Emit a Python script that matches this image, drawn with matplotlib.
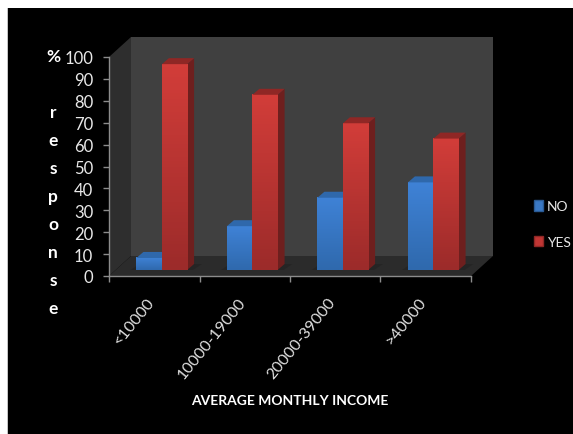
import matplotlib
matplotlib.use('Agg')
import matplotlib.pyplot as plt
import numpy as np
from matplotlib.colors import LinearSegmentedColormap
from matplotlib.patches import Polygon, Rectangle
from matplotlib.transforms import Affine2D

# Data for the chart
categories = ['<10000', '10000-19000', '20000-39000', '>40000']
no_values = [5.5, 20, 33, 40]
yes_values = [94, 80, 67, 60]
y_ticks = list(range(0, 101, 10))

plt.rcParams['font.family'] = ['Lato', 'DejaVu Sans']

W, H = 573, 435
fig = plt.figure(figsize=(W / 100, H / 100), dpi=100, facecolor='white')

# black slide behind the chart, thin grey edge on the left
fig.add_artist(Rectangle((7 / W, 0), 566 / W, 1 - 9 / H, transform=fig.transFigure,
                         facecolor='#c4c4c4', edgecolor='none', zorder=-3))
fig.add_artist(Rectangle((8 / W, 0), 565 / W, 1 - 9 / H, transform=fig.transFigure,
                         facecolor='black', edgecolor='none', zorder=-2))

# front edge of the chart box
ax = fig.add_axes([109 / W, 1 - 277 / H, 362 / W, 219 / H], zorder=2)
ax.set_xlim(0, 4)
ax.set_ylim(0, 100)
ax.patch.set_visible(False)


def depth(dx, dy):
    # data coords pushed back into the fake 3d box (pixels)
    return ax.transData + Affine2D().translate(dx, dy)


back = depth(22, 20)
ax.add_patch(Rectangle((0, 0), 4, 100, transform=back, facecolor='#404040', edgecolor='none',
                       zorder=1, clip_on=False))

# left wall and floor use both the front and the back corners
front_pts = ax.transData.transform([(0, 0), (0, 100), (4, 0)])
back_pts = front_pts + np.array([22, 20])
ax.add_patch(Polygon([front_pts[0], front_pts[1], back_pts[1], back_pts[0]], transform=None,
                     facecolor='#2e2e2e', edgecolor='none', zorder=1, clip_on=False))
ax.add_patch(Polygon([front_pts[0], front_pts[2], back_pts[2], back_pts[0]], transform=None,
                     facecolor='#2b2b2b', edgecolor='none', zorder=1, clip_on=False))

blue_map = LinearSegmentedColormap.from_list('blue', ['#2f69ad', '#3f82d6'])
red_map = LinearSegmentedColormap.from_list('red', ['#9c2b2a', '#d23d39'])
bar_w = 0.278
bar_off = depth(7.5, 6)
top_dx, top_dy = 7, 6


def draw_bars(centres, values, cmap, top_col, side_col, z):
    for c, v in zip(centres, values):
        left, right = c - bar_w / 2, c + bar_w / 2
        ax.imshow(np.linspace(1, 0, 64).reshape(-1, 1), cmap=cmap, aspect='auto', vmin=0, vmax=1,
                  extent=(left, right, 0, v), transform=bar_off, zorder=z + 1, clip_on=False)
        p = bar_off.transform([(left, 0), (right, 0), (left, v), (right, v)])
        s = np.array([top_dx, top_dy])
        ax.add_patch(Polygon([p[2], p[3], p[3] + s, p[2] + s], transform=None, facecolor=top_col,
                             edgecolor='none', zorder=z + 2, clip_on=False))
        ax.add_patch(Polygon([p[1], p[3], p[3] + s, p[1] + s], transform=None, facecolor=side_col,
                             edgecolor='none', zorder=z, clip_on=False))
        # soft shadow on the floor
        ax.add_patch(Polygon([p[0] - [6, 0], p[1] + [6, 0], p[1] + s + [8, 0], p[0] + s - [4, 0]], transform=None,
                             facecolor='#222222', edgecolor='none', alpha=0.6, zorder=2, clip_on=False))


x = np.arange(len(categories))
draw_bars(x + 0.5 - bar_w / 2 - 0.002, no_values, blue_map, '#2f68ab', '#24507f', 3)
draw_bars(x + 0.5 + bar_w / 2 + 0.002, yes_values, red_map, '#8f2725', '#6e1f1e', 6)
ax.set_xlim(0, 4)
ax.set_ylim(0, 100)

# axes
for s in ['top', 'right']:
    ax.spines[s].set_visible(False)
for s in ['left', 'bottom']:
    ax.spines[s].set_color('#8c8c8c')
    ax.spines[s].set_linewidth(1.0)
ax.set_yticks(y_ticks)
ax.set_yticklabels([str(t) for t in y_ticks], color='#e8e8e8', fontsize=12)
ax.set_xticks(range(len(categories) + 1))
ax.set_xticklabels([])
ax.tick_params(axis='both', color='#8c8c8c', width=1.0, length=4.3, pad=7)

# category labels sit between the ticks, rotated
for i, c in enumerate(categories):
    ax.annotate(c, (i + 0.5, 0), xytext=(-2, -23), textcoords='offset pixels', rotation=51,
                rotation_mode='anchor', ha='right', va='center', color='#e0e0e0', fontsize=11.5)

fig.text(290 / W, 1 - 401 / H, 'AVERAGE MONTHLY INCOME', color='white', fontsize=10, fontweight='bold',
         ha='center', va='center')
fig.text(53 / W, 1 - 183 / H, '%\n\nr\ne\ns\np\no\nn\ns\ne', color='white', fontsize=12.5, fontweight='bold',
         ha='center', va='center', linespacing=1.93)

# legend
handles = [Rectangle((0, 0), 1, 1, facecolor='#3a78c4', edgecolor='#2a5a94'),
           Rectangle((0, 0), 1, 1, facecolor='#c03634', edgecolor='#8f2725')]
fig.legend(handles, ['NO', 'YES'], loc='center left', bbox_to_anchor=(534 / W, 1 - 225 / H), frameon=False,
           labelcolor='#e8e8e8', fontsize=10, handlelength=0.65, handleheight=0.8, handletextpad=0.3,
           labelspacing=1.7, borderpad=0, borderaxespad=0)

fig.savefig('out.png', dpi=100, facecolor=fig.get_facecolor())
